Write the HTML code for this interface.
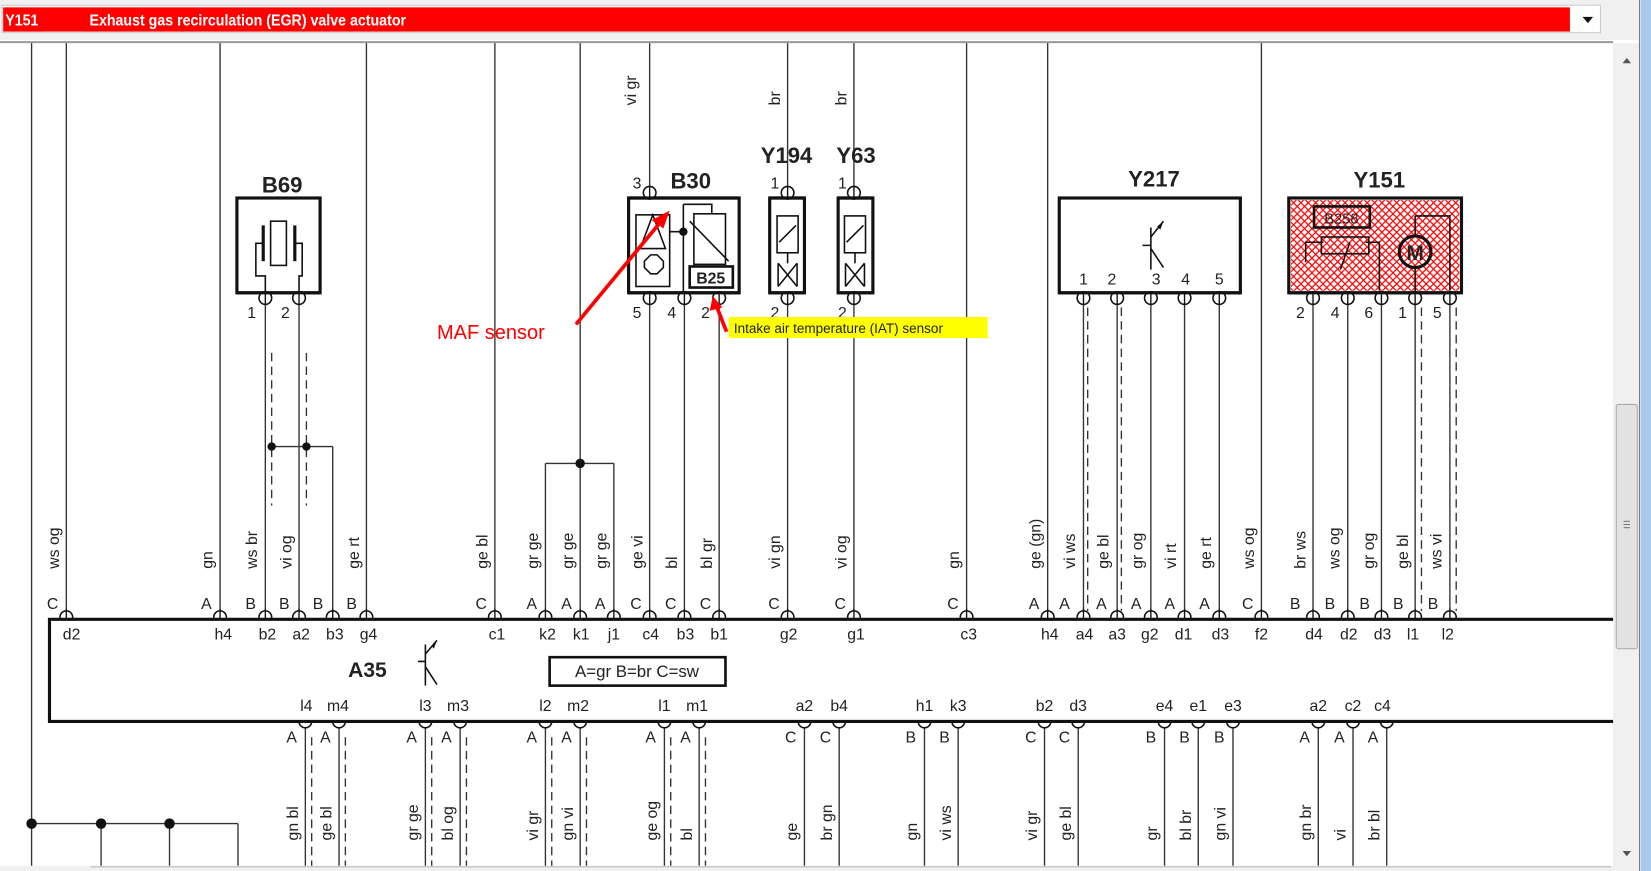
<!DOCTYPE html>
<html><head><meta charset="utf-8"><style>
html,body{margin:0;padding:0;background:#fff;overflow:hidden}
svg{display:block}
text{font-family:"Liberation Sans",sans-serif;fill:#222}
</style></head><body>
<svg width="1651" height="871" viewBox="0 0 1568 827" preserveAspectRatio="none">
<rect x="0" y="0" width="1568" height="827" fill="#fff"/>
<rect x="0" y="0" width="1556" height="38" fill="#f0f0f0"/>
<rect x="2" y="5" width="1518" height="26" fill="#fff" stroke="#ccc"/>
<rect x="3" y="7" width="1488" height="23" fill="#ff0000"/>
<text x="5" y="24" font-size="15" font-weight="bold" style="fill:#fff" transform="translate(5 0) scale(0.9 1) translate(-5 0)">Y151</text>
<text x="85" y="24" font-size="15" font-weight="bold" style="fill:#fff" transform="translate(85 0) scale(0.9 1) translate(-85 0)">Exhaust gas recirculation (EGR) valve actuator</text>
<path d="M1503 16 L1513 16 L1508 22 Z" fill="#111"/>
<line x1="0" y1="40" x2="1532" y2="40" stroke="#999" stroke-width="2"/>
<rect x="1532" y="41" width="24" height="786" fill="#f0f0f0"/>
<rect x="1535" y="384" width="20" height="232" fill="#e2e2e2" stroke="#aaa" rx="2"/>
<path d="M1541 60 L1549 60 L1545 55 Z" fill="#555"/>
<path d="M1541 808 L1549 808 L1545 813 Z" fill="#555"/>
<g stroke="#777"><line x1="1542" y1="495" x2="1548" y2="495"/><line x1="1542" y1="498" x2="1548" y2="498"/><line x1="1542" y1="501" x2="1548" y2="501"/></g>
<rect x="1558" y="0" width="10" height="827" fill="#a9c9ea"/>
<line x1="1557" y1="0" x2="1557" y2="827" stroke="#777"/>
<rect x="0" y="822" width="1532" height="5" fill="#f0f0f0"/>
<line x1="86" y1="823" x2="1530" y2="823" stroke="#bbb"/>

<g stroke="#333" stroke-width="1.3" fill="none">
<line x1="30" y1="41" x2="30" y2="822"/>
<line x1="63" y1="41" x2="63" y2="585"/>
<line x1="209" y1="41" x2="209" y2="585"/>
<line x1="348" y1="41" x2="348" y2="585"/>
<line x1="470" y1="41" x2="470" y2="585"/>
<line x1="551" y1="41" x2="551" y2="585"/>
<line x1="617" y1="41" x2="617" y2="585"/>
<line x1="748" y1="41" x2="748" y2="585"/>
<line x1="811" y1="41" x2="811" y2="585"/>
<line x1="918" y1="41" x2="918" y2="585"/>
<line x1="995" y1="41" x2="995" y2="585"/>
<line x1="1198" y1="41" x2="1198" y2="585"/>
<line x1="252" y1="283" x2="252" y2="585"/>
<line x1="284" y1="283" x2="284" y2="585"/>
<line x1="258" y1="424" x2="316" y2="424"/>
<line x1="316" y1="424" x2="316" y2="585"/>
<line x1="518" y1="440" x2="583" y2="440"/>
<line x1="518" y1="440" x2="518" y2="585"/>
<line x1="583" y1="440" x2="583" y2="585"/>
<line x1="650" y1="283" x2="650" y2="585"/>
<line x1="683" y1="283" x2="683" y2="585"/>
<line x1="1029" y1="283" x2="1029" y2="585"/>
<line x1="1061" y1="283" x2="1061" y2="585"/>
<line x1="1093" y1="283" x2="1093" y2="585"/>
<line x1="1125" y1="283" x2="1125" y2="585"/>
<line x1="1158" y1="283" x2="1158" y2="585"/>
<line x1="1247" y1="283" x2="1247" y2="585"/>
<line x1="1280" y1="283" x2="1280" y2="585"/>
<line x1="1312" y1="283" x2="1312" y2="585"/>
<line x1="1344" y1="283" x2="1344" y2="585"/>
<line x1="1377" y1="283" x2="1377" y2="585"/>
<line x1="290" y1="687" x2="290" y2="822"/><line x1="322" y1="687" x2="322" y2="822"/>
<line x1="404" y1="687" x2="404" y2="822"/><line x1="437" y1="687" x2="437" y2="822"/>
<line x1="518" y1="687" x2="518" y2="822"/><line x1="551" y1="687" x2="551" y2="822"/>
<line x1="631" y1="687" x2="631" y2="822"/><line x1="664" y1="687" x2="664" y2="822"/>
<line x1="764" y1="687" x2="764" y2="822"/><line x1="797" y1="687" x2="797" y2="822"/>
<line x1="878" y1="687" x2="878" y2="822"/><line x1="910" y1="687" x2="910" y2="822"/>
<line x1="992" y1="687" x2="992" y2="822"/><line x1="1024" y1="687" x2="1024" y2="822"/>
<line x1="1106" y1="687" x2="1106" y2="822"/><line x1="1138" y1="687" x2="1138" y2="822"/><line x1="1171" y1="687" x2="1171" y2="822"/>
<line x1="1252" y1="687" x2="1252" y2="822"/><line x1="1285" y1="687" x2="1285" y2="822"/><line x1="1317" y1="687" x2="1317" y2="822"/>
<line x1="30" y1="782" x2="226" y2="782"/>
<line x1="96" y1="782" x2="96" y2="822"/><line x1="161" y1="782" x2="161" y2="822"/><line x1="226" y1="782" x2="226" y2="822"/>
</g>
<g stroke="#333" stroke-width="1.3" stroke-dasharray="8 5">
<line x1="258" y1="335" x2="258" y2="480"/><line x1="291" y1="335" x2="291" y2="480"/>
<line x1="1033" y1="292" x2="1033" y2="580"/><line x1="1065" y1="292" x2="1065" y2="580"/>
<line x1="1350" y1="292" x2="1350" y2="580"/><line x1="1383" y1="292" x2="1383" y2="580"/>
<line x1="296" y1="700" x2="296" y2="822"/><line x1="328" y1="700" x2="328" y2="822"/>
<line x1="410" y1="700" x2="410" y2="822"/><line x1="443" y1="700" x2="443" y2="822"/>
<line x1="524" y1="700" x2="524" y2="822"/><line x1="557" y1="700" x2="557" y2="822"/>
<line x1="637" y1="700" x2="637" y2="822"/><line x1="670" y1="700" x2="670" y2="822"/>
</g>
<g fill="#111">
<circle cx="258" cy="424" r="4"/><circle cx="291" cy="424" r="4"/><circle cx="551" cy="440" r="4.5"/>
<circle cx="30" cy="782" r="5"/><circle cx="96" cy="782" r="5"/><circle cx="161" cy="782" r="5"/>
</g>

<g stroke="#111" stroke-width="3" fill="#fff">
<rect x="225" y="188" width="79" height="90"/>
<rect x="597" y="188" width="105" height="90"/>
<rect x="731" y="188" width="33" height="90"/>
<rect x="796" y="188" width="33" height="90"/>
<rect x="1006" y="188" width="172" height="90"/>
<rect x="1224" y="188" width="164" height="90"/>
</g>
<defs><pattern id="hx" width="7" height="7" patternUnits="userSpaceOnUse"><path d="M0 0 L7 7 M7 0 L0 7" stroke="#f00" stroke-width="1.2"/></pattern></defs>
<rect x="1226" y="190" width="160" height="86" fill="url(#hx)"/>
<g stroke="#111" stroke-width="1.5" fill="none">
<rect x="257" y="210" width="15" height="42"/>
<line x1="250" y1="214" x2="250" y2="248" stroke-width="3"/><line x1="280" y1="214" x2="280" y2="248" stroke-width="3"/>
<path d="M250 231 H243 V262 H252 V283 M280 231 H287 V262 H284 V283"/>
<rect x="604" y="204" width="32" height="68"/>
<path d="M620 204 L632 236 L608 236 Z"/>
<path d="M612 248 l6-6 h6 l6 6 v6 l-6 6 h-6 l-6-6 z"/>
<path d="M636 220 H649 M649 194 V278 M649 194 H676 V203"/>
<rect x="659" y="203" width="30" height="48"/>
<line x1="655" y1="210" x2="692" y2="248"/>
<rect x="655" y="253" width="41" height="20" stroke-width="2.5"/>
<rect x="738" y="205" width="20" height="35"/><line x1="740" y1="230" x2="756" y2="214"/>
<line x1="748" y1="240" x2="748" y2="250"/><path d="M739 250 L757 272 M757 250 L739 272 M739 250 L739 272 M757 250 V272"/>
<rect x="802" y="205" width="20" height="35"/><line x1="804" y1="230" x2="820" y2="214"/>
<line x1="812" y1="240" x2="812" y2="250"/><path d="M803 250 L821 272 M821 250 L803 272 M803 250 L803 272 M821 250 V272"/>
<path d="M1093 216 V256 M1085 233 H1093 M1093 225 L1105 210 M1093 236 L1105 254"/>
<rect x="1248" y="196" width="53" height="20" stroke-width="2.5"/>
<rect x="1255" y="225" width="45" height="16"/>
<path d="M1240 249 V230 H1257 M1297 230 H1310 V276 M1273 256 L1282 230"/>
<circle cx="1344" cy="239" r="15" stroke-width="3"/>
<path d="M1344 205 H1377 V276 M1344 205 V224 M1344 254 V278"/>
</g>
<g fill="#111">
<circle cx="649" cy="220" r="4"/>
<path d="M1099 215 L1105 210 L1102 218 Z"/>
</g>
<text x="1344" y="247" font-size="20" font-weight="bold" text-anchor="middle">M</text>
<text x="675" y="269" font-size="15" font-weight="bold" text-anchor="middle">B25</text>
<text x="1274" y="212" font-size="14" text-anchor="middle">B258</text>

<g stroke="#111" stroke-width="1.5" fill="#fff">
<circle cx="617" cy="183" r="6"/><circle cx="748" cy="183" r="6"/><circle cx="811" cy="183" r="6"/>
<circle cx="252" cy="283" r="6"/><circle cx="284" cy="283" r="6"/>
<circle cx="617" cy="283" r="6"/><circle cx="650" cy="283" r="6"/><circle cx="683" cy="283" r="6"/>
<circle cx="748" cy="283" r="6"/><circle cx="811" cy="283" r="6"/>
<circle cx="1029" cy="283" r="6"/><circle cx="1061" cy="283" r="6"/><circle cx="1093" cy="283" r="6"/><circle cx="1125" cy="283" r="6"/><circle cx="1158" cy="283" r="6"/>
<circle cx="1247" cy="283" r="6"/><circle cx="1280" cy="283" r="6"/><circle cx="1312" cy="283" r="6"/><circle cx="1344" cy="283" r="6"/><circle cx="1377" cy="283" r="6"/>
</g>
<g stroke="#111" stroke-width="3" fill="none">
<line x1="597" y1="188" x2="702" y2="188"/><line x1="731" y1="188" x2="764" y2="188"/><line x1="796" y1="188" x2="829" y2="188"/>
<line x1="225" y1="278" x2="304" y2="278"/><line x1="597" y1="278" x2="702" y2="278"/><line x1="731" y1="278" x2="764" y2="278"/><line x1="796" y1="278" x2="829" y2="278"/>
<line x1="1006" y1="278" x2="1178" y2="278"/><line x1="1224" y1="278" x2="1388" y2="278"/>
</g>
<g stroke="#111" stroke-width="1.3">
<line x1="617" y1="177" x2="617" y2="188"/><line x1="748" y1="177" x2="748" y2="188"/><line x1="811" y1="177" x2="811" y2="188"/>
<line x1="252" y1="278" x2="252" y2="289"/><line x1="284" y1="278" x2="284" y2="289"/><line x1="617" y1="278" x2="617" y2="289"/><line x1="650" y1="278" x2="650" y2="289"/><line x1="683" y1="278" x2="683" y2="289"/><line x1="748" y1="278" x2="748" y2="289"/><line x1="811" y1="278" x2="811" y2="289"/>
<line x1="1029" y1="278" x2="1029" y2="289"/><line x1="1061" y1="278" x2="1061" y2="289"/><line x1="1093" y1="278" x2="1093" y2="289"/><line x1="1125" y1="278" x2="1125" y2="289"/><line x1="1158" y1="278" x2="1158" y2="289"/>
<line x1="1247" y1="278" x2="1247" y2="289"/><line x1="1280" y1="278" x2="1280" y2="289"/><line x1="1312" y1="278" x2="1312" y2="289"/><line x1="1344" y1="278" x2="1344" y2="289"/><line x1="1377" y1="278" x2="1377" y2="289"/>
</g>

<g font-size="21" font-weight="bold" text-anchor="middle">
<text x="268" y="183">B69</text><text x="656" y="179">B30</text><text x="747" y="155">Y194</text><text x="813" y="155">Y63</text>
<text x="1096" y="177">Y217</text><text x="1310" y="178">Y151</text>
</g>
<g font-size="15" text-anchor="middle">
<text x="239" y="302">1</text><text x="271" y="302">2</text>
<text x="605" y="179">3</text><text x="736" y="179">1</text><text x="800" y="179">1</text>
<text x="605" y="302">5</text><text x="638" y="302">4</text><text x="670" y="302">2</text>
<text x="736" y="302">2</text><text x="800" y="302">2</text>
<text x="1029" y="270">1</text><text x="1056" y="270">2</text><text x="1098" y="270">3</text><text x="1126" y="270">4</text><text x="1158" y="270">5</text>
<text x="1235" y="302">2</text><text x="1268" y="302">4</text><text x="1300" y="302">6</text><text x="1332" y="302">1</text><text x="1365" y="302">5</text>
</g>

<g stroke="#111" stroke-width="1.5" fill="#fff">
<circle cx="63" cy="586" r="6"/><circle cx="209" cy="586" r="6"/><circle cx="252" cy="586" r="6"/><circle cx="284" cy="586" r="6"/><circle cx="316" cy="586" r="6"/><circle cx="348" cy="586" r="6"/>
<circle cx="470" cy="586" r="6"/><circle cx="518" cy="586" r="6"/><circle cx="551" cy="586" r="6"/><circle cx="583" cy="586" r="6"/><circle cx="617" cy="586" r="6"/><circle cx="650" cy="586" r="6"/><circle cx="683" cy="586" r="6"/>
<circle cx="748" cy="586" r="6"/><circle cx="811" cy="586" r="6"/><circle cx="918" cy="586" r="6"/>
<circle cx="995" cy="586" r="6"/><circle cx="1029" cy="586" r="6"/><circle cx="1061" cy="586" r="6"/><circle cx="1093" cy="586" r="6"/><circle cx="1125" cy="586" r="6"/><circle cx="1158" cy="586" r="6"/><circle cx="1198" cy="586" r="6"/>
<circle cx="1247" cy="586" r="6"/><circle cx="1280" cy="586" r="6"/><circle cx="1312" cy="586" r="6"/><circle cx="1344" cy="586" r="6"/><circle cx="1377" cy="586" r="6"/>
<circle cx="290" cy="685" r="6"/><circle cx="322" cy="685" r="6"/><circle cx="404" cy="685" r="6"/><circle cx="437" cy="685" r="6"/><circle cx="518" cy="685" r="6"/><circle cx="551" cy="685" r="6"/><circle cx="631" cy="685" r="6"/><circle cx="664" cy="685" r="6"/>
<circle cx="764" cy="685" r="6"/><circle cx="797" cy="685" r="6"/><circle cx="878" cy="685" r="6"/><circle cx="910" cy="685" r="6"/><circle cx="992" cy="685" r="6"/><circle cx="1024" cy="685" r="6"/>
<circle cx="1106" cy="685" r="6"/><circle cx="1138" cy="685" r="6"/><circle cx="1171" cy="685" r="6"/><circle cx="1252" cy="685" r="6"/><circle cx="1285" cy="685" r="6"/><circle cx="1317" cy="685" r="6"/>
</g>
<rect x="47" y="588" width="1485" height="96" fill="#fff" stroke="none"/>
<path d="M1532 588 H47 V685 H1532" fill="none" stroke="#111" stroke-width="3"/>
<!-- A35 content (drawn after white fill) -->
<g stroke="#111" stroke-width="1.5" fill="none">
<path d="M404 612 V651 M397 628 H404 M404 621 L415 608 M404 633 L415 650"/>
<rect x="522" y="624" width="167" height="27" stroke-width="2.5"/>
</g>
<path d="M410 613 L415 608 L412 616 Z" fill="#111"/>
<text x="349" y="643" font-size="20" font-weight="bold" text-anchor="middle">A35</text>
<g stroke="#111" stroke-width="1.3">
<line x1="63" y1="578" x2="63" y2="588"/><line x1="209" y1="578" x2="209" y2="588"/><line x1="252" y1="578" x2="252" y2="588"/><line x1="284" y1="578" x2="284" y2="588"/><line x1="316" y1="578" x2="316" y2="588"/><line x1="348" y1="578" x2="348" y2="588"/>
<line x1="470" y1="578" x2="470" y2="588"/><line x1="518" y1="578" x2="518" y2="588"/><line x1="551" y1="578" x2="551" y2="588"/><line x1="583" y1="578" x2="583" y2="588"/><line x1="617" y1="578" x2="617" y2="588"/><line x1="650" y1="578" x2="650" y2="588"/><line x1="683" y1="578" x2="683" y2="588"/>
<line x1="748" y1="578" x2="748" y2="588"/><line x1="811" y1="578" x2="811" y2="588"/><line x1="918" y1="578" x2="918" y2="588"/>
<line x1="995" y1="578" x2="995" y2="588"/><line x1="1029" y1="578" x2="1029" y2="588"/><line x1="1061" y1="578" x2="1061" y2="588"/><line x1="1093" y1="578" x2="1093" y2="588"/><line x1="1125" y1="578" x2="1125" y2="588"/><line x1="1158" y1="578" x2="1158" y2="588"/><line x1="1198" y1="578" x2="1198" y2="588"/>
<line x1="1247" y1="578" x2="1247" y2="588"/><line x1="1280" y1="578" x2="1280" y2="588"/><line x1="1312" y1="578" x2="1312" y2="588"/><line x1="1344" y1="578" x2="1344" y2="588"/><line x1="1377" y1="578" x2="1377" y2="588"/>
</g>
<g font-size="15" text-anchor="middle">
<text x="68" y="607">d2</text><text x="212" y="607">h4</text><text x="254" y="607">b2</text><text x="286" y="607">a2</text><text x="318" y="607">b3</text><text x="350" y="607">g4</text>
<text x="472" y="607">c1</text><text x="520" y="607">k2</text><text x="552" y="607">k1</text><text x="583" y="607">j1</text><text x="618" y="607">c4</text><text x="651" y="607">b3</text><text x="683" y="607">b1</text>
<text x="749" y="607">g2</text><text x="813" y="607">g1</text><text x="920" y="607">c3</text>
<text x="997" y="607">h4</text><text x="1030" y="607">a4</text><text x="1061" y="607">a3</text><text x="1092" y="607">g2</text><text x="1124" y="607">d1</text><text x="1159" y="607">d3</text><text x="1198" y="607">f2</text>
<text x="1248" y="607">d4</text><text x="1281" y="607">d2</text><text x="1313" y="607">d3</text><text x="1342" y="607">l1</text><text x="1375" y="607">l2</text>
<text x="291" y="675">l4</text><text x="321" y="675">m4</text><text x="404" y="675">l3</text><text x="435" y="675">m3</text><text x="518" y="675">l2</text><text x="549" y="675">m2</text><text x="631" y="675">l1</text><text x="662" y="675">m1</text>
<text x="764" y="675">a2</text><text x="797" y="675">b4</text><text x="878" y="675">h1</text><text x="910" y="675">k3</text><text x="992" y="675">b2</text><text x="1024" y="675">d3</text>
<text x="1106" y="675">e4</text><text x="1138" y="675">e1</text><text x="1171" y="675">e3</text><text x="1252" y="675">a2</text><text x="1285" y="675">c2</text><text x="1313" y="675">c4</text>
<text x="605" y="643" font-size="16">A=gr  B=br  C=sw</text>
<text x="50" y="578">C</text><text x="196" y="578">A</text><text x="238" y="578">B</text><text x="270" y="578">B</text><text x="302" y="578">B</text><text x="334" y="578">B</text>
<text x="457" y="578">C</text><text x="505" y="578">A</text><text x="538" y="578">A</text><text x="570" y="578">A</text><text x="604" y="578">C</text><text x="637" y="578">C</text><text x="670" y="578">C</text>
<text x="735" y="578">C</text><text x="798" y="578">C</text><text x="905" y="578">C</text>
<text x="982" y="578">A</text><text x="1011" y="578">A</text><text x="1046" y="578">A</text><text x="1079" y="578">A</text><text x="1111" y="578">A</text><text x="1144" y="578">A</text><text x="1185" y="578">C</text>
<text x="1230" y="578">B</text><text x="1263" y="578">B</text><text x="1296" y="578">B</text><text x="1328" y="578">B</text><text x="1361" y="578">B</text>
<text x="277" y="705">A</text><text x="309" y="705">A</text><text x="391" y="705">A</text><text x="424" y="705">A</text><text x="505" y="705">A</text><text x="538" y="705">A</text><text x="618" y="705">A</text><text x="651" y="705">A</text>
<text x="751" y="705">C</text><text x="784" y="705">C</text><text x="865" y="705">B</text><text x="897" y="705">B</text><text x="979" y="705">C</text><text x="1011" y="705">C</text>
<text x="1093" y="705">B</text><text x="1125" y="705">B</text><text x="1158" y="705">B</text><text x="1239" y="705">A</text><text x="1272" y="705">A</text><text x="1304" y="705">A</text>
</g>
<g font-size="15">
<text transform="translate(56 540) rotate(-90)">ws og</text>
<text transform="translate(202 540) rotate(-90)">gn</text>
<text transform="translate(244 540) rotate(-90)">ws br</text>
<text transform="translate(277 540) rotate(-90)">vi og</text>
<text transform="translate(341 540) rotate(-90)">ge rt</text>
<text transform="translate(463 540) rotate(-90)">ge bl</text>
<text transform="translate(511 540) rotate(-90)">gr ge</text>
<text transform="translate(544 540) rotate(-90)">gr ge</text>
<text transform="translate(576 540) rotate(-90)">gr ge</text>
<text transform="translate(610 540) rotate(-90)">ge vi</text>
<text transform="translate(643 540) rotate(-90)">bl</text>
<text transform="translate(676 540) rotate(-90)">bl gr</text>
<text transform="translate(741 540) rotate(-90)">vi gn</text>
<text transform="translate(804 540) rotate(-90)">vi og</text>
<text transform="translate(911 540) rotate(-90)">gn</text>
<text transform="translate(988 540) rotate(-90)">ge (gn)</text>
<text transform="translate(1021 540) rotate(-90)">vi ws</text>
<text transform="translate(1053 540) rotate(-90)">ge bl</text>
<text transform="translate(1085 540) rotate(-90)">gr og</text>
<text transform="translate(1117 540) rotate(-90)">vi rt</text>
<text transform="translate(1150 540) rotate(-90)">ge rt</text>
<text transform="translate(1191 540) rotate(-90)">ws og</text>
<text transform="translate(1240 540) rotate(-90)">br ws</text>
<text transform="translate(1272 540) rotate(-90)">ws og</text>
<text transform="translate(1305 540) rotate(-90)">gr og</text>
<text transform="translate(1337 540) rotate(-90)">ge bl</text>
<text transform="translate(1369 540) rotate(-90)">ws vi</text>
<text transform="translate(283 798) rotate(-90)">gn bl</text>
<text transform="translate(315 798) rotate(-90)">ge bl</text>
<text transform="translate(397 798) rotate(-90)">gr ge</text>
<text transform="translate(430 798) rotate(-90)">bl og</text>
<text transform="translate(511 798) rotate(-90)">vi gr</text>
<text transform="translate(544 798) rotate(-90)">gn vi</text>
<text transform="translate(624 798) rotate(-90)">ge og</text>
<text transform="translate(657 798) rotate(-90)">bl</text>
<text transform="translate(757 798) rotate(-90)">ge</text>
<text transform="translate(790 798) rotate(-90)">br gn</text>
<text transform="translate(871 798) rotate(-90)">gn</text>
<text transform="translate(903 798) rotate(-90)">vi ws</text>
<text transform="translate(985 798) rotate(-90)">vi gr</text>
<text transform="translate(1017 798) rotate(-90)">ge bl</text>
<text transform="translate(1099 798) rotate(-90)">gr</text>
<text transform="translate(1131 798) rotate(-90)">bl br</text>
<text transform="translate(1164 798) rotate(-90)">gn vi</text>
<text transform="translate(1245 798) rotate(-90)">gn br</text>
<text transform="translate(1278 798) rotate(-90)">vi</text>
<text transform="translate(1310 798) rotate(-90)">br bl</text>
<text transform="translate(604 100) rotate(-90)">vi gr</text>
<text transform="translate(741 100) rotate(-90)">br</text>
<text transform="translate(804 100) rotate(-90)">br</text>
</g>
<text x="415" y="322" font-size="19" style="fill:#f00">MAF sensor</text>
<line x1="547" y1="308" x2="628" y2="210" stroke="#f00" stroke-width="3.5"/>
<path d="M636 200 L619 209 L630 217 Z" fill="#f00"/>
<rect x="692" y="301" width="246" height="20" fill="#ffff00"/>
<text x="697" y="316" font-size="13.5" transform="translate(697 0) scale(0.95 1) translate(-697 0)">Intake air temperature (IAT) sensor</text>
<line x1="690" y1="315" x2="681" y2="292" stroke="#f00" stroke-width="3.5"/>
<path d="M677 281 L674 295 L686 292 Z" fill="#f00"/>
</svg>
</body></html>
